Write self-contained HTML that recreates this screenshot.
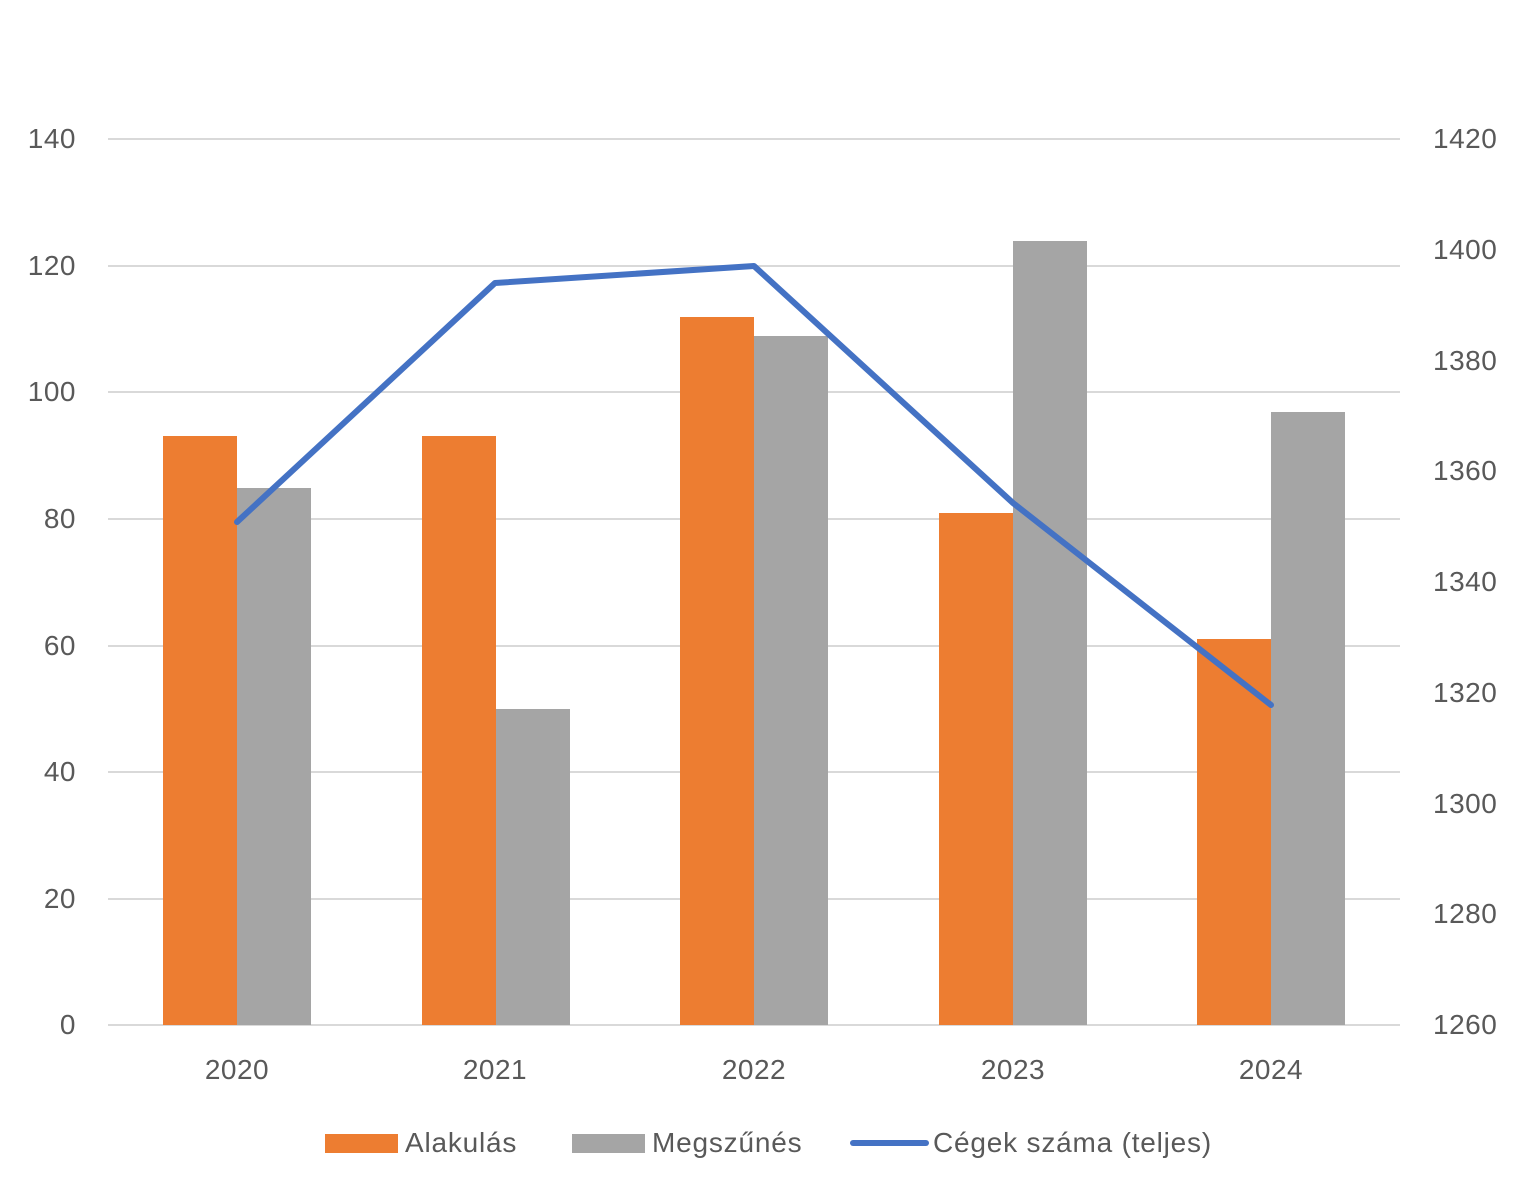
<!DOCTYPE html>
<html><head><meta charset="utf-8"><style>
html,body{margin:0;padding:0;background:#fff;}
svg{display:block;font-family:"Liberation Sans",sans-serif;}
</style></head><body>
<svg width="1527" height="1200" viewBox="0 0 1527 1200" xmlns="http://www.w3.org/2000/svg">
<g stroke="#D9D9D9" stroke-width="2">
<line x1="108" x2="1400" y1="139" y2="139"/>
<line x1="108" x2="1400" y1="266" y2="266"/>
<line x1="108" x2="1400" y1="392" y2="392"/>
<line x1="108" x2="1400" y1="519" y2="519"/>
<line x1="108" x2="1400" y1="646" y2="646"/>
<line x1="108" x2="1400" y1="772" y2="772"/>
<line x1="108" x2="1400" y1="899" y2="899"/>
<line x1="108" x2="1400" y1="1025" y2="1025"/>
</g>
<g fill="#ED7D31">
<rect x="163" y="436" width="74" height="589"/>
<rect x="422" y="436" width="74" height="589"/>
<rect x="680" y="317" width="74" height="708"/>
<rect x="939" y="513" width="74" height="512"/>
<rect x="1197" y="639" width="74" height="386"/>
</g>
<g fill="#A5A5A5">
<rect x="237" y="488" width="74" height="537"/>
<rect x="496" y="709" width="74" height="316"/>
<rect x="754" y="336" width="74" height="689"/>
<rect x="1013" y="241" width="74" height="784"/>
<rect x="1271" y="412" width="74" height="613"/>
</g>
<polyline points="237,522 495,283 754,266 1013,503 1271,705" fill="none" stroke="#4472C4" stroke-width="6" stroke-linejoin="round" stroke-linecap="round"/>
<g fill="#595959" font-size="28" letter-spacing="0.5" text-anchor="end">
<text x="76" y="148">140</text>
<text x="76" y="275">120</text>
<text x="76" y="401">100</text>
<text x="76" y="528">80</text>
<text x="76" y="655">60</text>
<text x="76" y="781">40</text>
<text x="76" y="908">20</text>
<text x="76" y="1034">0</text>
</g>
<g fill="#595959" font-size="28" letter-spacing="0.5" text-anchor="start">
<text x="1433" y="148">1420</text>
<text x="1433" y="259">1400</text>
<text x="1433" y="370">1380</text>
<text x="1433" y="480">1360</text>
<text x="1433" y="591">1340</text>
<text x="1433" y="702">1320</text>
<text x="1433" y="813">1300</text>
<text x="1433" y="923">1280</text>
<text x="1433" y="1034">1260</text>
</g>
<g fill="#595959" font-size="28" letter-spacing="0.5" text-anchor="middle">
<text x="237" y="1079">2020</text>
<text x="495" y="1079">2021</text>
<text x="754" y="1079">2022</text>
<text x="1013" y="1079">2023</text>
<text x="1271" y="1079">2024</text>
</g>
<g fill="#595959" font-size="28" letter-spacing="0.8">
<rect x="325" y="1134" width="73" height="19" fill="#ED7D31"/>
<text x="405" y="1152">Alakulás</text>
<rect x="572" y="1134" width="73" height="19" fill="#A5A5A5"/>
<text x="652" y="1152">Megszűnés</text>
<line x1="853" x2="926" y1="1143" y2="1143" stroke="#4472C4" stroke-width="6" stroke-linecap="round"/>
<text x="933" y="1152">Cégek száma (teljes)</text>
</g>
</svg>
</body></html>
